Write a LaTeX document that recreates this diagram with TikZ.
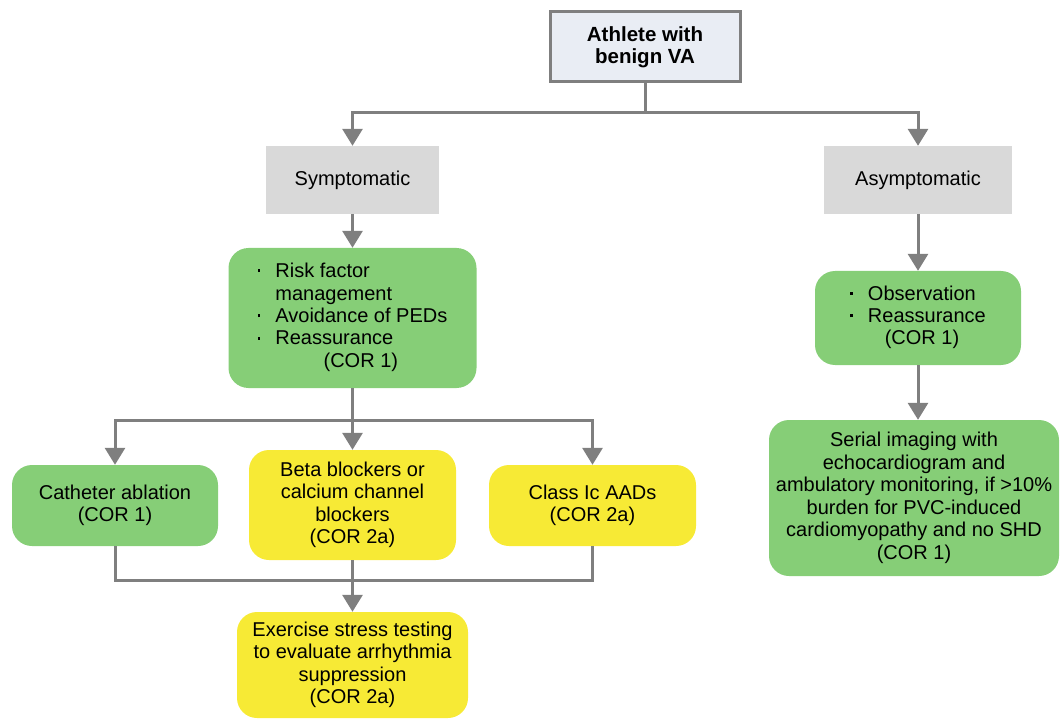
\documentclass[tikz,border=0pt]{standalone}
\usepackage{fontspec}
\setmainfont{Liberation Sans}
\usetikzlibrary{arrows.meta}
\definecolor{linegray}{HTML}{7F7F7F}
\definecolor{boxgreen}{HTML}{86CE77}
\definecolor{boxyellow}{HTML}{F7EA35}
\definecolor{boxgray}{HTML}{D9D9D9}
\definecolor{topfill}{HTML}{E9EDF4}
% small square list marker
\newcommand{\listdot}{\rule[5.5pt]{2.8pt}{2.8pt}}
\tikzset{
  conn/.style={draw=linegray, line width=3pt},
  arr/.style={conn, -{Triangle[width=20pt,length=17pt]}},
  basebox/.style={inner sep=0pt, align=center, text=black,
    font=\fontsize{20}{22.5}\selectfont},
  greenbox/.style={basebox, rounded corners=20pt, fill=boxgreen},
  yellowbox/.style={basebox, rounded corners=20pt, fill=boxyellow},
  graybox/.style={basebox, fill=boxgray},
  topbox/.style={basebox, fill=topfill, draw=linegray, line width=3pt,
    font=\fontsize{20.5}{22.5}\selectfont\bfseries}
}
\begin{document}
\begin{tikzpicture}[x=1pt, y=-1pt]
\useasboundingbox (0,0) rectangle (1060,719);

% boxes
\node[topbox, minimum width=190pt, minimum height=70pt] (top) at (645,47)
  {Athlete with\\benign VA};
\node[graybox, minimum width=173pt, minimum height=68pt] (sym) at (352.5,180)
  {Symptomatic};
\node[graybox, minimum width=188pt, minimum height=68pt] (asym) at (918,180)
  {Asymptomatic};

\node[greenbox, minimum width=248pt, minimum height=140pt] (risk) at (352.5,318)
  {\begin{tabular}{@{}l@{\hspace{15pt}}l@{}}
   \listdot & Risk factor\\
            & management\\
   \listdot & Avoidance of PEDs\\
   \listdot & Reassurance\\
   \multicolumn{2}{@{}l@{}}{\hspace{66pt}(COR 1)}
   \end{tabular}};

\node[greenbox, minimum width=206pt, minimum height=94pt] (obs) at (918,318)
  {\begin{tabular}{@{}l@{\hspace{15pt}}l@{}}
   \listdot & Observation\\
   \listdot & Reassurance\\
   \multicolumn{2}{@{}c@{}}{\hspace{8pt}(COR 1)}
   \end{tabular}};

\node[greenbox, minimum width=206pt, minimum height=81pt] (cath) at (115,505.5)
  {Catheter ablation\\(COR 1)};
\node[yellowbox, minimum width=207pt, minimum height=110pt] (beta) at (352.5,505)
  {Beta blockers or\\calcium channel\\blockers\\(COR 2a)};
\node[yellowbox, minimum width=207pt, minimum height=81pt] (classic) at (592.5,505.5)
  {Class Ic AADs\\(COR 2a)};
\node[yellowbox, minimum width=231pt, minimum height=106pt] (ex) at (352.5,665)
  {Exercise stress testing\\to evaluate arrhythmia\\suppression\\(COR 2a)};

\node[greenbox, minimum width=290pt, minimum height=156pt] (serial) at (914,498)
  {Serial imaging with\\echocardiogram and\\ambulatory monitoring, if >10\%\\burden for PVC-induced\\cardiomyopathy and no SHD\\(COR 1)};

% junction points
\coordinate (j1) at (645,113);
\coordinate (j2) at (352.5,420);
\coordinate (j3) at (352.5,580);

% connectors
\draw[conn] (top.south) -- (j1);
\draw[arr] (j1) -| (sym.north);
\draw[arr] (j1) -| (asym.north);
\draw[arr] (sym.south) -- (risk.north);
\draw[conn] (risk.south) -- (j2);
\draw[arr] (j2) -| (cath.north);
\draw[arr] (j2) -- (beta.north);
\draw[arr] (j2) -| (classic.north);
\draw[conn] (cath.south) |- (j3);
\draw[conn] (classic.south) |- (j3);
\draw[conn] (beta.south) -- (j3);
\draw[arr] (j3) -- (ex.north);
\draw[arr] (asym.south) -- (obs.north);
\draw[arr] (obs.south) -- (obs.south |- serial.north);
\end{tikzpicture}
\end{document}
